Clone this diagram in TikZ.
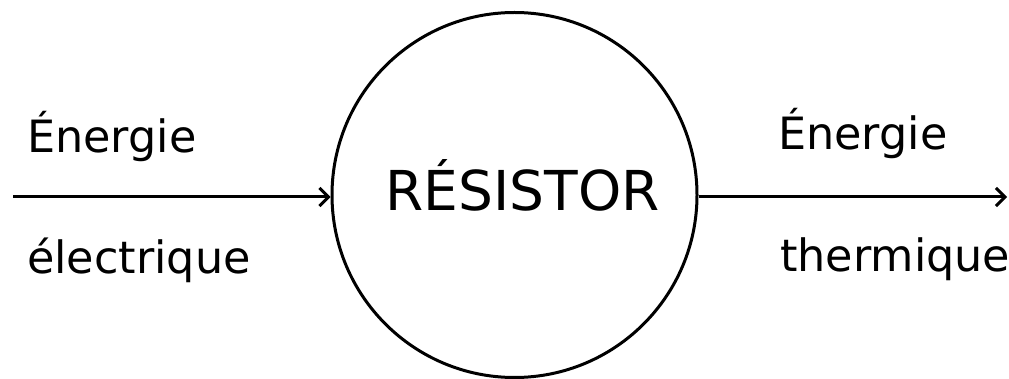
\documentclass[tikz,border=0pt]{standalone}
\usepackage{fontspec}
\setmainfont{DejaVu Sans}
\usetikzlibrary{arrows.meta}
\begin{document}
\begin{tikzpicture}[x=1pt,y=-1pt,
  flow/.style={line width=3pt,-{Straight Barb[length=9pt,width=18pt,line width=3pt]}},
  lbl/.style={font=\fontsize{44.5}{50}\selectfont,anchor=base west,inner sep=0pt},
  core/.style={circle,draw,line width=3pt,minimum size=365pt,inner sep=0pt}]
\useasboundingbox (0,0) rectangle (1009,379);
\node[core] (res) at (514.5,195) {};
\node[font=\fontsize{55}{64}\selectfont,anchor=base,inner sep=0pt] (name) at (522.5,211) {RÉSISTOR};
\coordinate (src) at (13,197);
\coordinate (dst) at (1007,197);
\draw[flow] (src) -- (res.west |- src);
\draw[flow] (res.east |- dst) -- (dst);
\node[lbl] (inA) at (27,153) {Énergie};
\node[lbl] (inB) at (27,273) {électrique};
\node[lbl] (outA) at (778,150) {Énergie};
\node[lbl] (outB) at (780,272) {thermique};
\end{tikzpicture}
\end{document}
